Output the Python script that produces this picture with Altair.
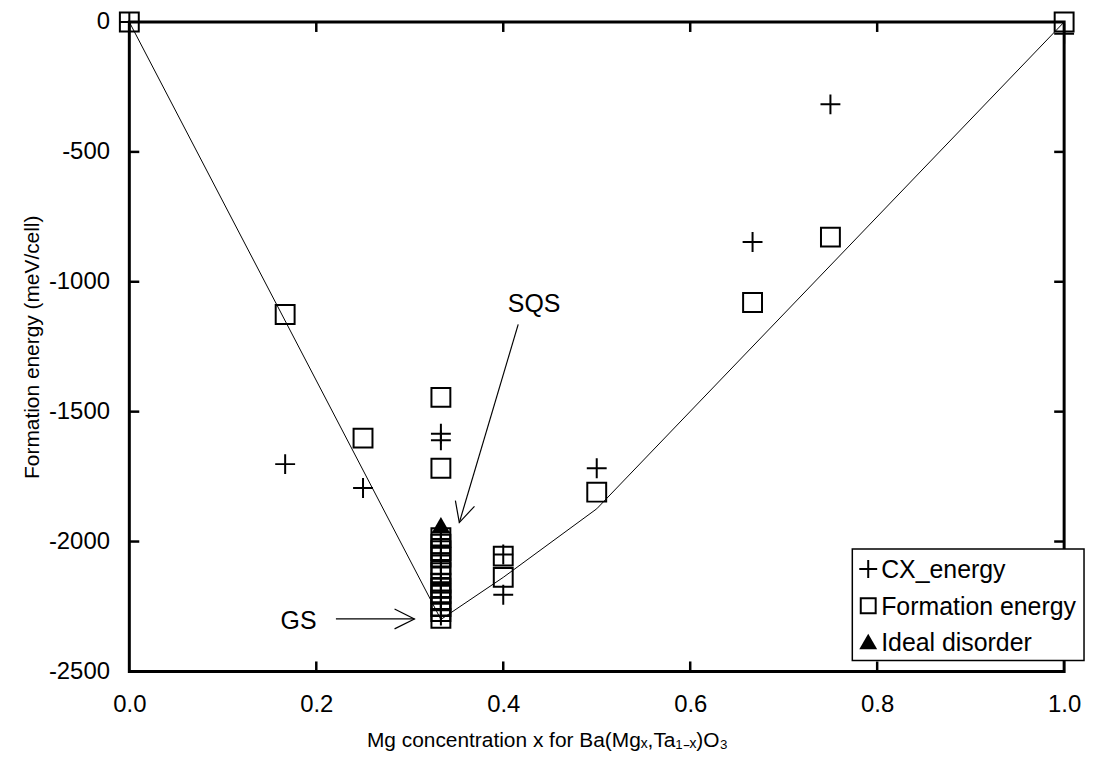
import altair as alt
import pandas as pd

FONT = "Liberation Sans"

# ---- data ----
# CX_energy (crosses)
cx_x = [0.0, 0.1667, 0.25, 0.3333, 0.3333,
        0.3333, 0.3333, 0.3333, 0.3333, 0.3333, 0.3333, 0.3333,
        0.3333, 0.3333, 0.3333, 0.3333, 0.3333, 0.3333,
        0.4, 0.4, 0.5, 0.6667, 0.75, 1.0]
cx_y = [0, -1702, -1794, -1585, -1610,
        -1965, -1990, -2015, -2045, -2075, -2100, -2140,
        -2170, -2195, -2215, -2240, -2265, -2285,
        -2050, -2205, -1718, -847, -317, -45]

# Formation energy (squares)
fe_x = [0.0, 0.1667, 0.25, 0.3333, 0.3333,
        0.3333, 0.3333, 0.3333, 0.3333, 0.3333, 0.3333, 0.3333,
        0.3333, 0.3333, 0.3333, 0.3333, 0.3333, 0.3333,
        0.4, 0.4, 0.5, 0.6667, 0.75, 1.0]
fe_y = [0, -1126, -1602, -1445, -1718,
        -1985, -2010, -2035, -2060, -2090, -2120, -2160,
        -2180, -2200, -2225, -2250, -2270, -2296,
        -2056, -2138, -1810, -1080, -828, 0]

# Ideal disorder (filled triangle)
id_x = [0.3333]
id_y = [-1935]

# ground-state hull line
hull_x = [0.0, 0.3333, 0.4, 0.5, 1.0]
hull_y = [0, -2300, -2138, -1874, 0]

# axis ticks
x_ticks = [0.0, 0.2, 0.4, 0.6, 0.8, 1.0]
y_ticks = [0, -500, -1000, -1500, -2000, -2500]
x_inner = [0.2, 0.4, 0.6, 0.8]
y_inner = [-500, -1000, -1500, -2000]

# annotations
ann_text = ["SQS", "GS"]
ann_x = [0.433, 0.181]
ann_y = [-1084, -2305]
arrow_x = [0.416, 0.221]
arrow_y = [-1164, -2298]
arrow_x2 = [0.353, 0.305]
arrow_y2 = [-1927, -2298]
arrow_angle = [196.4, 90]

legend_labels = ["CX_energy", "Formation energy", "Ideal disorder"]

W, H = 940, 653
CROSS = "M-1,0L1,0M0,-1L0,1"
HEAD = "M-0.5,1L0,0L0.5,1"

cx_df = pd.DataFrame({"x": cx_x, "y": cx_y})
fe_df = pd.DataFrame({"x": fe_x, "y": fe_y})
id_df = pd.DataFrame({"x": id_x, "y": id_y})
hull_df = pd.DataFrame({"x": hull_x, "y": hull_y})
ann_df = pd.DataFrame({"t": ann_text, "x": ann_x, "y": ann_y})
arr_df = pd.DataFrame({"x": arrow_x, "y": arrow_y, "x2": arrow_x2,
                       "y2": arrow_y2, "a": arrow_angle})

xs = alt.Scale(domain=[0, 1], nice=False, zero=False)
ys = alt.Scale(domain=[-2500, 0], nice=False, zero=False)

X = alt.X("x:Q", scale=xs, axis=alt.Axis(
    values=x_ticks, format=".1f", title="Mg concentration x for Ba(Mgₓ,Ta₁₋ₓ)O₃",
    labelFontSize=24, titleFontSize=21, labelPadding=21, titlePadding=14,
    titleX=420, titleAlign="center",
    labelFlush=False, labelOverlap=False, domain=False, ticks=False, tickSize=0,
    grid=False, labelFont=FONT, titleFont=FONT, labelColor="black",
    titleColor="black", titleFontWeight="normal"))
Y = alt.Y("y:Q", scale=ys, axis=alt.Axis(
    values=y_ticks, labelExpr="toString(datum.value)",
    title="Formation energy (meV/cell)",
    labelFontSize=24, titleFontSize=21, labelPadding=20, titlePadding=6,
    labelFlush=False, labelOverlap=False, domain=False, ticks=False, tickSize=0,
    grid=False, labelFont=FONT, titleFont=FONT, labelColor="black",
    titleColor="black", titleFontWeight="normal"))

hull = alt.Chart(hull_df).mark_line(color="black", strokeWidth=1).encode(x=X, y=Y)

cx = alt.Chart(cx_df).mark_point(shape=CROSS, size=400, filled=False,
                                 color="black", strokeWidth=2, opacity=1).encode(
    x=alt.X("x:Q", scale=xs), y=alt.Y("y:Q", scale=ys))
fe = alt.Chart(fe_df).mark_point(shape="square", size=361, filled=False,
                                 color="black", strokeWidth=2, opacity=1).encode(
    x=alt.X("x:Q", scale=xs), y=alt.Y("y:Q", scale=ys))
ideal = alt.Chart(id_df).mark_point(shape="triangle-up", size=324, filled=True,
                                    color="black", opacity=1).encode(
    x=alt.X("x:Q", scale=xs), y=alt.Y("y:Q", scale=ys))

# inward ticks on all four sides
xt_df = pd.DataFrame({"x": x_inner})
yt_df = pd.DataFrame({"y": y_inner})
tick_style = dict(color="black", strokeWidth=2.5)
xt_bot = alt.Chart(xt_df).mark_rule(**tick_style).encode(
    x=alt.X("x:Q", scale=xs), y=alt.value(H), y2=alt.value(H - 10))
xt_top = alt.Chart(xt_df).mark_rule(**tick_style).encode(
    x=alt.X("x:Q", scale=xs), y=alt.value(0), y2=alt.value(10))
yt_left = alt.Chart(yt_df).mark_rule(**tick_style).encode(
    y=alt.Y("y:Q", scale=ys), x=alt.value(0), x2=alt.value(10))
yt_right = alt.Chart(yt_df).mark_rule(**tick_style).encode(
    y=alt.Y("y:Q", scale=ys), x=alt.value(W), x2=alt.value(W - 10))

# annotations
ann = alt.Chart(ann_df).mark_text(font=FONT, fontSize=25, color="black",
                                  align="center", baseline="middle").encode(
    x=alt.X("x:Q", scale=xs), y=alt.Y("y:Q", scale=ys), text="t:N")
shafts = alt.Chart(arr_df).mark_rule(color="black", strokeWidth=1.2).encode(
    x=alt.X("x:Q", scale=xs), y=alt.Y("y:Q", scale=ys),
    x2="x2:Q", y2="y2:Q")
heads = alt.Chart(arr_df).mark_point(shape=HEAD, size=1600, filled=False,
                                     color="black", strokeWidth=1.2, opacity=1).encode(
    x=alt.X("x2:Q", scale=xs), y=alt.Y("y2:Q", scale=ys),
    angle=alt.Angle("a:Q", scale=None))

# legend (drawn by hand)
one = pd.DataFrame({"k": [0]})
lx0, lx1, ly0, ly1 = 727, 960, 530, 642
leg_box = alt.Chart(one).mark_rect(fill="white", stroke="black", strokeWidth=1.5).encode(
    x=alt.value(lx0), x2=alt.value(lx1), y=alt.value(ly0), y2=alt.value(ly1))
rows = [550, 587, 623]
leg_layers = [leg_box]
sym_specs = [dict(shape=CROSS, size=324, filled=False, strokeWidth=2),
             dict(shape="square", size=225, filled=False, strokeWidth=2),
             dict(shape="triangle-up", size=324, filled=True)]
for lab, ry, spec in zip(legend_labels, rows, sym_specs):
    leg_layers.append(alt.Chart(one).mark_point(color="black", opacity=1, **spec).encode(
        x=alt.value(743), y=alt.value(ry)))
    leg_layers.append(alt.Chart(one).mark_text(
        text=lab, font=FONT, fontSize=25, color="black", align="left",
        baseline="middle").encode(x=alt.value(756), y=alt.value(ry + 1)))

chart = alt.layer(
    hull, xt_bot, xt_top, yt_left, yt_right, shafts, heads, ann,
    fe, cx, ideal, *leg_layers
).properties(
    width=W, height=H, autosize="none",
    padding={"left": 122, "top": 12, "right": 24, "bottom": 90},
    background="white"
).configure_view(stroke="black", strokeWidth=3)

chart.save("out.html", embed_options={"renderer": "svg", "actions": False})
